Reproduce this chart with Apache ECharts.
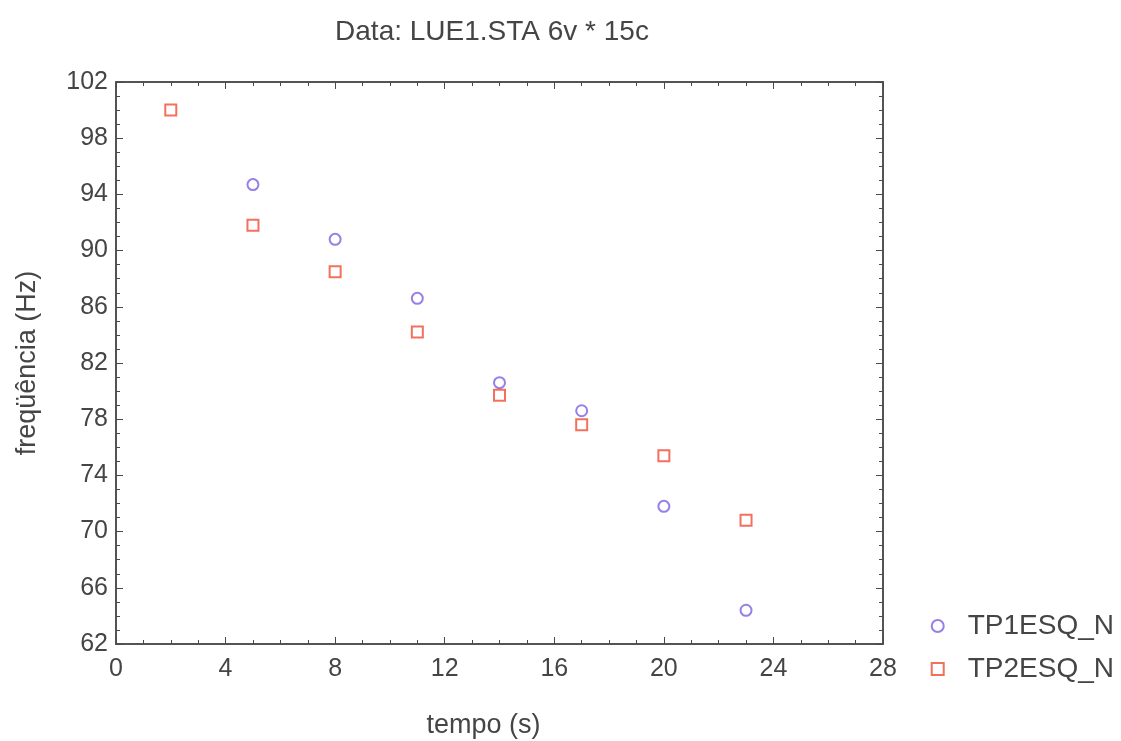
<!DOCTYPE html>
<html>
<head>
<meta charset="utf-8">
<script src="https://cdn.jsdelivr.net/npm/echarts@6/dist/echarts.min.js"></script>
<style>
  html, body { margin: 0; padding: 0; background: #fff; }
  #chart { width: 1121px; height: 741px; }
</style>
</head>
<body>
<div id="chart"></div>
<script>
// tempo (s)
const tempo1 = [5, 8, 11, 14, 17, 20, 23];
const tp1esq = [94.7, 90.8, 86.6, 80.6, 78.6, 71.8, 64.4];
const tempo2 = [2, 5, 8, 11, 14, 17, 20, 23];
const tp2esq = [100.0, 91.8, 88.5, 84.2, 79.7, 77.6, 75.4, 70.8];

const xTicks = [0, 4, 8, 12, 16, 20, 24, 28];
const yTicks = [62, 66, 70, 74, 78, 82, 86, 90, 94, 98, 102];

const pairs = (xs, ys) => xs.map((x, i) => [x, ys[i]]);

const font = 'Liberation Sans, Arial, sans-serif';
const textCol = '#454545';
const axisCol = '#4a4a4a';

function axisBase(show, margin) {
  return {
    show: true,
    axisLine: { show: true, onZero: false, lineStyle: { color: axisCol, width: 1.5 } },
    axisTick: { show: true, inside: true, length: 7, lineStyle: { color: axisCol } },
    minorTick: { show: true, splitNumber: 4, length: 4, lineStyle: { color: axisCol } },
    splitLine: { show: false },
    axisLabel: {
      show: show, color: textCol, fontSize: 25, fontFamily: font, margin: margin
    }
  };
}

const chart = echarts.init(document.getElementById('chart'));
chart.setOption({
  animation: false,
  backgroundColor: '#fff',
  title: {
    text: 'Data: LUE1.STA 6v * 15c',
    left: 487, top: 13, textAlign: 'center',
    textStyle: { color: textCol, fontSize: 28, fontWeight: 'normal', fontFamily: font }
  },
  grid: { left: 116, right: 238, top: 82, bottom: 97, containLabel: false,
    outerBoundsMode: 'none',
    show: true, borderColor: axisCol, borderWidth: 1.5 },
  legend: {
    orient: 'vertical', right: 2, top: 607,
    itemWidth: 12, itemHeight: 12, itemGap: 15,
    textStyle: { color: textCol, fontSize: 28, fontFamily: font, padding: [0, 0, 0, 19] },
    data: ['TP1ESQ_N', 'TP2ESQ_N']
  },
  xAxis: [
    Object.assign(axisBase(true, 13), {
      type: 'value', min: xTicks[0], max: xTicks[xTicks.length - 1], interval: 4,
      name: 'tempo (s)', nameLocation: 'middle', nameGap: 68,
      nameTextStyle: { color: textCol, fontSize: 27, fontFamily: font, padding: [0, 32, 0, 0] }
    }),
    Object.assign(axisBase(false, 10), {
      type: 'value', position: 'top', min: xTicks[0], max: xTicks[xTicks.length - 1], interval: 4
    })
  ],
  yAxis: [
    Object.assign(axisBase(true, 8), {
      type: 'value', min: yTicks[0], max: yTicks[yTicks.length - 1], interval: 4,
      name: 'freqüência (Hz)', nameLocation: 'middle', nameGap: 75,
      nameTextStyle: { color: textCol, fontSize: 27, fontFamily: font }
    }),
    Object.assign(axisBase(false, 8), {
      type: 'value', position: 'right', min: yTicks[0], max: yTicks[yTicks.length - 1], interval: 4
    })
  ],
  series: [
    {
      name: 'TP1ESQ_N', type: 'scatter', symbol: 'emptyCircle', symbolSize: 11,
      itemStyle: { color: '#7d5fe0', borderWidth: 1.5 },
      data: pairs(tempo1, tp1esq)
    },
    {
      name: 'TP2ESQ_N', type: 'scatter', symbol: 'emptyRect', symbolSize: 11,
      itemStyle: { color: '#f04c34', borderWidth: 2 },
      data: pairs(tempo2, tp2esq)
    }
  ]
});
</script>
</body>
</html>
